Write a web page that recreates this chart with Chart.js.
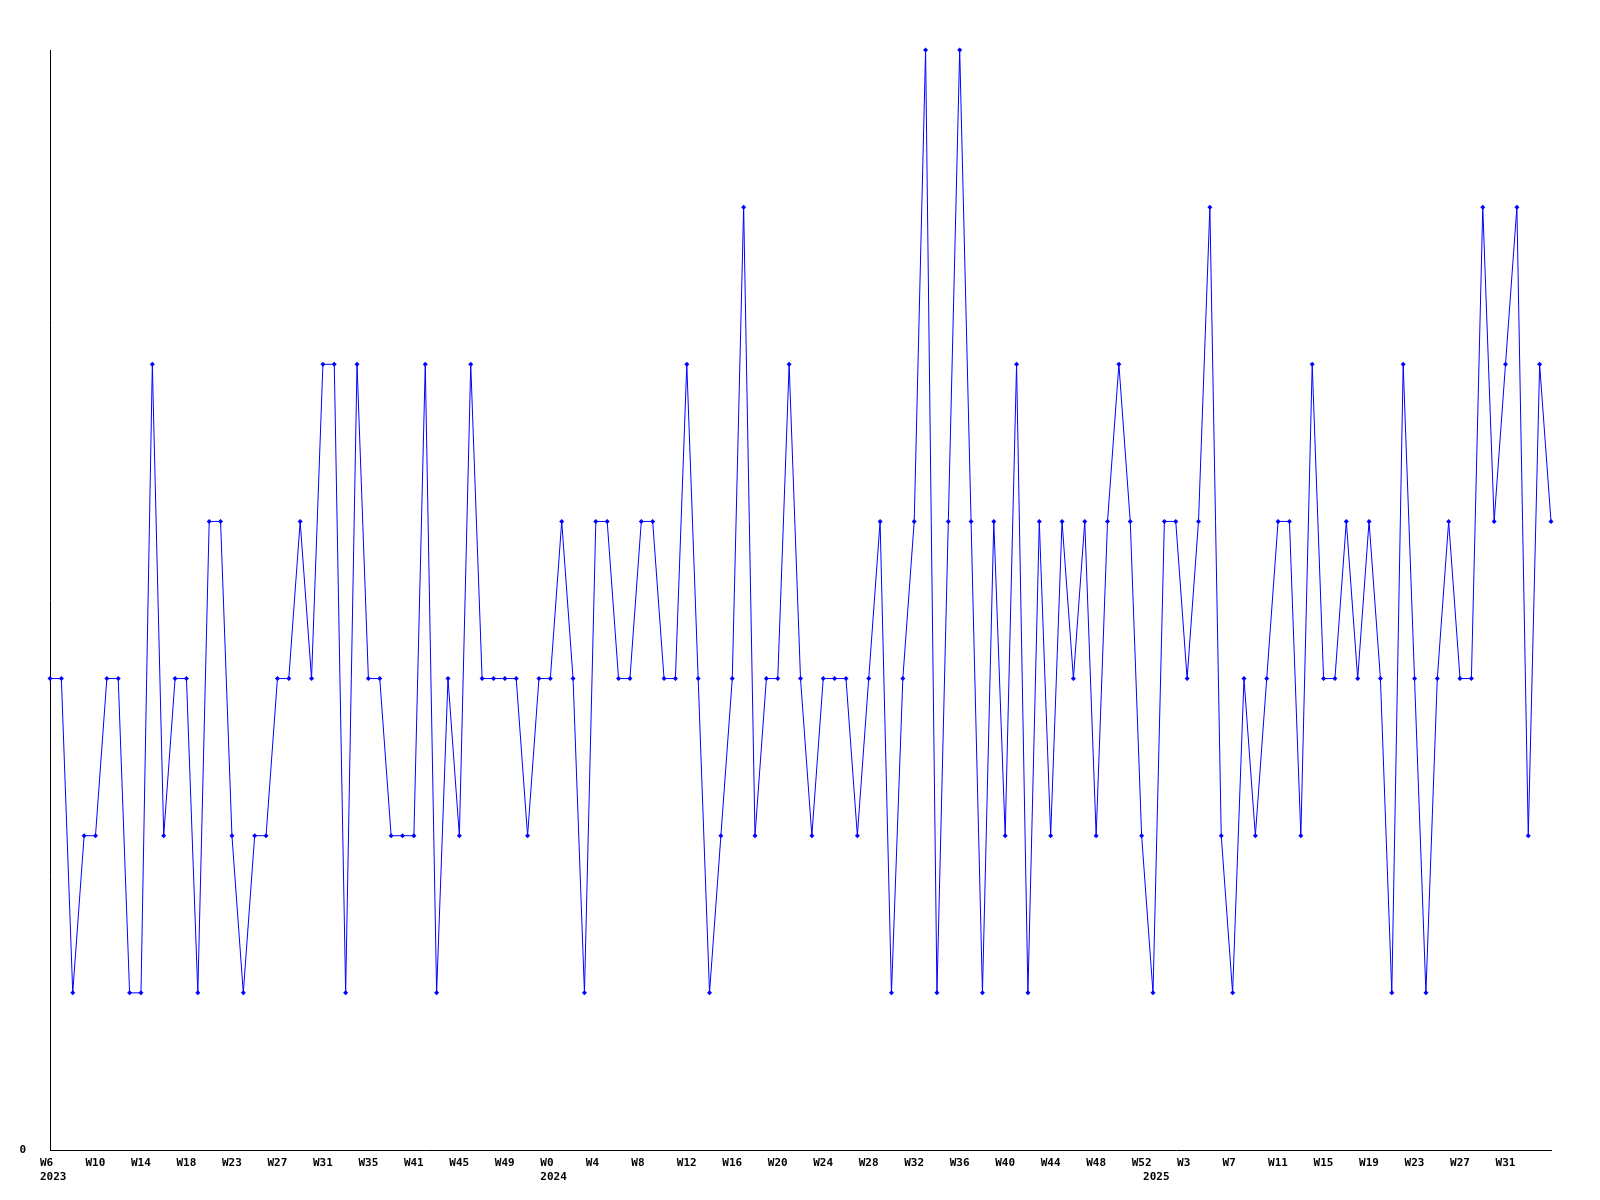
<!DOCTYPE html>
<html>
<head>
<meta charset="utf-8">
<title>Weekly count</title>
<script src="https://cdn.jsdelivr.net/npm/chart.js"></script>
<style>
    body { margin: 0; background: #ffffff; }
    #chart { display: block; }
</style>
</head>
<body>
<canvas id="chart" width="1600" height="1200"></canvas>
<script>
// Week numbers per year (2023 has a few weeks missing)
const weeks2023 = [6, 7, 8, 9, 10, 11, 12, 13, 14, 15, 16, 17, 18, 19, 20, 21,
    23, 24, 25, 26, 27, 28, 29, 30, 31, 32, 33, 34, 35, 37, 39, 40,
    41, 42, 43, 44, 45, 46, 47, 48, 49, 50, 51, 52];
const weeks2024 = [0, 1, 2, 3, 4, 5, 6, 7, 8, 9, 10, 11, 12, 13, 14, 15, 16, 17, 18, 19,
    20, 21, 22, 23, 24, 25, 26, 27, 28, 29, 30, 31, 32, 33, 34, 35, 36, 37, 38, 39,
    40, 41, 42, 43, 44, 45, 46, 47, 48, 49, 50, 51, 52];
const weeks2025 = [0, 1, 2, 3, 4, 5, 6, 7, 8, 9, 10, 11, 12, 13, 14, 15, 16, 17, 18, 19,
    20, 21, 22, 23, 24, 25, 26, 27, 28, 29, 30, 31, 32, 33, 34, 35];
const years = ['2023', '2024', '2025'];

// Value per week
const counts = [
    3, 3, 1, 2, 2, 3, 3, 1, 1, 5,
    2, 3, 3, 1, 4, 4, 2, 1, 2, 2,
    3, 3, 4, 3, 5, 5, 1, 5, 3, 3,
    2, 2, 2, 5, 1, 3, 2, 5, 3, 3,
    3, 3, 2, 3, 3, 4, 3, 1, 4, 4,
    3, 3, 4, 4, 3, 3, 5, 3, 1, 2,
    3, 6, 2, 3, 3, 5, 3, 2, 3, 3,
    3, 2, 3, 4, 1, 3, 4, 7, 1, 4,
    7, 4, 1, 4, 2, 5, 1, 4, 2, 4,
    3, 4, 2, 4, 5, 4, 2, 1, 4, 4,
    3, 4, 6, 2, 1, 3, 2, 3, 4, 4,
    2, 5, 3, 3, 4, 3, 4, 3, 1, 5,
    3, 1, 3, 4, 3, 3, 6, 4, 5, 6,
    2, 5, 4
];

const yMax = 7;
const labelEvery = 4;
const lastLabelIndex = 128;

// Build one category per point, remember where each year starts
const categories = [];
const yearStart = {};
[weeks2023, weeks2024, weeks2025].forEach((weeks, y) => {
    yearStart[categories.length] = years[y];
    weeks.forEach(w => categories.push('W' + w));
});

const tickFont = { family: 'DejaVu Sans Mono', size: 11, weight: 'bold', lineHeight: 1.3 };

function xTickLabel(value, index) {
    const week = (index % labelEvery === 0 && index <= lastLabelIndex) ? categories[index] : '';
    if (yearStart[index]) {
        return [week, yearStart[index]];
    }
    return week;
}

function drawChart() {
    const ctx = document.getElementById('chart').getContext('2d');
    new Chart(ctx, {
        type: 'line',
        data: {
            labels: categories,
            datasets: [{
                data: counts,
                borderColor: '#0000ff',
                backgroundColor: '#0000ff',
                borderWidth: 1,
                tension: 0,
                pointStyle: 'rectRot',
                pointRadius: 2.5,
                pointBorderWidth: 0,
                pointHoverRadius: 2.5,
                clip: false
            }]
        },
        options: {
            responsive: false,
            animation: false,
            layout: { padding: { top: 50, right: 49, left: 0, bottom: 0 } },
            plugins: {
                legend: { display: false },
                tooltip: { enabled: false }
            },
            scales: {
                x: {
                    offset: false,
                    grid: { display: false, drawTicks: false },
                    border: { display: true, color: '#000000', width: 1 },
                    ticks: {
                        autoSkip: false,
                        maxRotation: 0,
                        minRotation: 0,
                        align: 'start',
                        labelOffset: -10,
                        padding: 6,
                        color: '#000000',
                        font: tickFont,
                        callback: xTickLabel
                    },
                    afterFit: scale => { scale.height = 50; }
                },
                y: {
                    min: 0,
                    max: yMax,
                    grid: { display: false, drawTicks: false },
                    border: { display: true, color: '#000000', width: 1 },
                    ticks: {
                        stepSize: yMax,
                        padding: 24,
                        color: '#000000',
                        font: tickFont,
                        callback: v => (v === 0 ? '0' : null)
                    },
                    afterFit: scale => { scale.width = 50; }
                }
            }
        }
    });
}

window.onload = drawChart;
</script>
</body>
</html>
